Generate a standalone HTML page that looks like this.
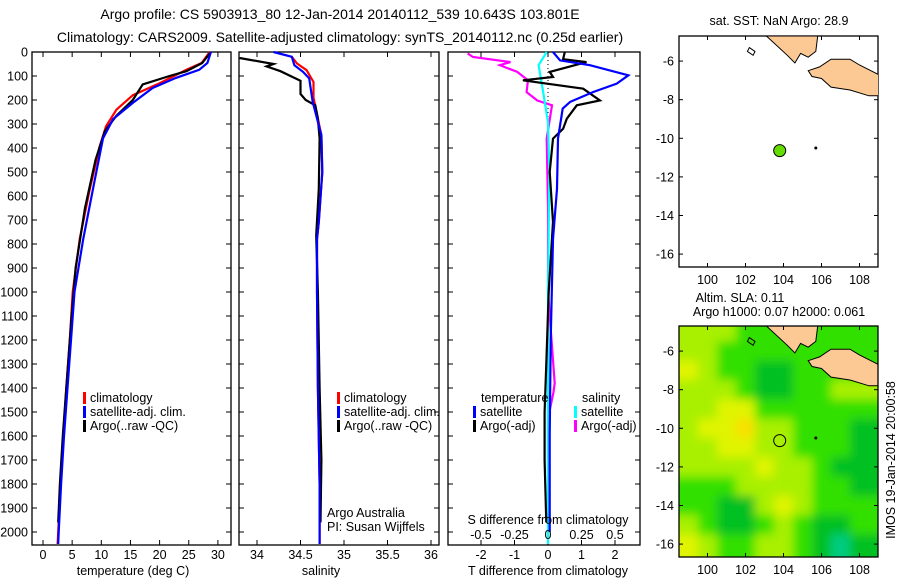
<!DOCTYPE html>
<html><head><meta charset="utf-8"><style>
body{margin:0;background:#fff;}
svg{display:block;font-family:"Liberation Sans",sans-serif;}
text{fill:#000;}
</style></head><body>
<svg id="fig" width="900" height="580" viewBox="0 0 900 580" xmlns="http://www.w3.org/2000/svg">
<text x="340" y="19" font-size="14" text-anchor="middle">Argo profile: CS 5903913_80 12-Jan-2014 20140112_539 10.643S 103.801E</text>
<text x="340" y="42" font-size="14" text-anchor="middle">Climatology: CARS2009. Satellite-adjusted climatology: synTS_20140112.nc (0.25d earlier)</text>
<g id="g"></g>
</svg>
<script>
// ---- profile data (depth in m) ----
const tClimDepth=[0,46,74,130,180,240,310,395,575,780,1000,1200,1400,1600,1800,2000,2050];
const tClim=[28.6,27.2,24.6,20.0,15.4,12.6,10.8,9.7,8.0,6.3,5.1,4.6,4.0,3.5,3.0,2.6,2.5];
const tSatDepth=[0,46,74,108,150,212,280,360,530,780,1000,1200,1400,1600,1800,2000,2050];
const tSat=[28.8,28.2,26.8,22.8,18.8,15.4,12.0,10.3,8.9,6.9,5.4,4.8,4.2,3.6,3.1,2.7,2.6];
const tArgoDepth=[0,46,80,100,135,200,265,330,450,650,900,1100,1400,1600,1800,1960];
const tArgo=[28.8,27.3,24.6,21.7,17.1,15.4,12.6,10.6,9.0,7.2,5.6,4.9,4.0,3.4,2.9,2.6];
const sClimDepth=[20,48,76,125,190,260,347,500,708,780,1000,1400,1800,2000,2050];
const sClim=[34.4,34.46,34.57,34.65,34.65,34.69,34.74,34.75,34.71,34.69,34.69,34.7,34.72,34.72,34.72];
const sSatDepth=[0,20,55,83,110,208,347,500,708,780,1000,1400,1800,2000,2050];
const sSat=[34.19,34.4,34.43,34.53,34.6,34.64,34.74,34.75,34.71,34.69,34.69,34.7,34.72,34.72,34.72];
const sArgoDepth=[25,50,60,80,108,120,175,200,222,278,360,570,765,1000,1400,1700,1960];
const sArgo=[33.8,34.19,34.11,34.27,34.43,34.5,34.5,34.56,34.67,34.7,34.72,34.71,34.68,34.7,34.72,34.74,34.73];
const dTSatDepth=[0,35,55,97,132,167,208,236,361,570,780,1200,1600,2000];
const dTSat=[0.15,0.36,1.25,2.4,2.05,1.34,0.66,0.44,0.3,0.27,0.15,0.08,0.05,0.05];
const dTArgoDepth=[0,30,42,83,104,118,153,202,222,278,320,361,500,708,1000,1300,1500,1700,1960];
const dTArgo=[0.5,0.45,1.15,0.05,0.15,-0.75,1.05,1.55,0.86,0.56,0.45,0.15,0.05,0.15,0.02,-0.05,-0.1,-0.1,-0.05];
const dSArgoDepth=[6,21,42,55,83,118,167,202,222,361,640,1000,1380,1420,1500,1960];
const dSArgo=[-0.6,-0.56,-0.28,-0.36,-0.23,-0.15,-0.16,-0.08,0.03,-0.01,0,0,0.05,0.04,0.01,0];
const dSSatDepth=[0,55,153,292,500,1000,1500,2050];
const dSSat=[-0.01,-0.07,-0.04,0,0.01,0,0,0];
// ---- axis ticks ----
const depthTicks=[0,100,200,300,400,500,600,700,800,900,1000,1100,1200,1300,1400,1500,1600,1700,1800,1900,2000];
const tempTicks=[0,5,10,15,20,25,30];
const salTicks=[34,34.5,35,35.5,36];
const salTickLabels=["34","34.5","35","35.5","36"];
const tdTicks=[-2,-1,0,1,2];
const sdTicks=[-0.5,-0.25,0,0.25,0.5];
const sdTickLabels=["-0.5","-0.25","0","0.25","0.5"];
const lonTicks=[100,102,104,106,108];
const latTicks=[-6,-8,-10,-12,-14,-16];
// ---- SLA grid (lat rows -5..-16, lon cols 99..108), level 0 teal .. 5 orange ----
const slaLats=[-5,-6,-7,-8,-9,-10,-11,-12,-13,-14,-15,-16];
const slaLons=[99,100,101,102,103,104,105,106,107,108];
const slaRows=[
[3,3,3,2,2,2,2,2,2,2],
[3,3,2,2,2,2,2,2,2,2],
[4,3,2,2,1,1,2,2,2,2],
[3,3,3,2,1,1,2,2,3,3],
[3,3,4,4,2,2,2,2,2,2],
[3,4,4,5,3,3,2,2,2,1],
[3,3,4,4,3,3,2,2,2,1],
[3,3,3,3,4,3,3,2,1,1],
[2,2,2,3,3,3,3,2,2,1],
[2,2,1,1,3,4,3,2,2,2],
[3,2,1,1,2,3,2,1,1,2],
[4,3,2,2,3,3,2,1,0,1]];
const argoLon=103.8, argoLat=-10.64;
const islandLon=105.7, islandLat=-10.5;
const sumatra=[[103.1,-4.7],[105.8,-4.7],[105.7,-5.5],[105.3,-5.8],[104.9,-5.6],[104.6,-6.1],[104.2,-5.7],[103.1,-4.7]];
const java=[[105.3,-6.5],[105.9,-6.3],[106.5,-5.9],[107.5,-5.9],[108,-6.2],[109,-6.7],[109,-7.8],[108.5,-7.8],[107.5,-7.5],[106.5,-7.35],[106,-6.9],[105.5,-6.8]];
const smallIsle=[[102.2,-5.3],[102.5,-5.5],[102.4,-5.7],[102.1,-5.5]];

const NS="http://www.w3.org/2000/svg";
const G=document.getElementById('g');
function el(tag,attrs,parent){const e=document.createElementNS(NS,tag);for(const k in attrs)e.setAttribute(k,attrs[k]);(parent||G).appendChild(e);return e;}
function txt(x,y,s,size,anchor,parent){const t=el('text',{x:x,y:y,'font-size':size,'text-anchor':anchor||'start'},parent);t.textContent=s;return t;}
const Y0=52,Y1=545;
const yD=d=>Y0+d*0.24;
const xT=t=>43+t*5.83;
const xS=s=>257+(s-34)*87;
const xTd=t=>548+t*33.5;
const xSd=s=>548+s*134;
function step(xs,ds,fx){let p=[];for(let i=0;i<xs.length;i++){p.push(fx(xs[i]).toFixed(1)+','+Math.min(Y1,yD(ds[i])).toFixed(1));}return p.join(' ');}
function frame(x0,x1,name){const r=el('rect',{x:x0,y:Y0,width:x1-x0,height:Y1-Y0,fill:'none',stroke:'#000','stroke-width':1.3});
 depthTicks.forEach(d=>{el('line',{x1:x0,x2:x0+5,y1:yD(d),y2:yD(d),stroke:'#000'});el('line',{x1:x1-5,x2:x1,y1:yD(d),y2:yD(d),stroke:'#000'});});}
function xticks(vals,fx,labels,name){vals.forEach((v,i)=>{const x=fx(v);el('line',{x1:x,x2:x,y1:Y0,y2:Y0+5,stroke:'#000'});el('line',{x1:x,x2:x,y1:Y1-5,y2:Y1,stroke:'#000'});const t=txt(x,559,labels[i],12.5,'middle');});}
function line(xs,ds,fx,color,name){const p=el('polyline',{points:step(xs,ds,fx),fill:'none',stroke:color,'stroke-width':2.2,'stroke-linejoin':'miter'});}
function legend(x,y,color,label,name){el('rect',{x:x,y:y-10,width:3,height:12,fill:color});const t=txt(x+7,y,label,12.5);}

// Panel 1 temperature
frame(32,231,'temperature-panel');
depthTicks.forEach(d=>{const t=txt(28,yD(d)+4.5,String(d),12.5,'end');});
xticks(tempTicks,xT,tempTicks.map(String),'temperature-tick-label');
line(tClim,tClimDepth,xT,'#ff0000','temp-climatology-line');
line(tArgo,tArgoDepth,xT,'#000000','temp-argo-line');
line(tSat,tSatDepth,xT,'#0000ff','temp-satellite-line');
{const t=txt(133,575,'temperature (deg C)',12.5,'middle');}
legend(83,402,'#ff0000','climatology','legend-climatology');
legend(83,416,'#0000ff','satellite-adj. clim.','legend-satellite-adj');
legend(83,430,'#000000','Argo(..raw -QC)','legend-argo');

// Panel 2 salinity
frame(239,439,'salinity-panel');
xticks(salTicks,xS,salTickLabels,'salinity-tick-label');
line(sClim,sClimDepth,xS,'#ff0000','sal-climatology-line');
line(sArgo,sArgoDepth,xS,'#000000','sal-argo-line');
line(sSat,sSatDepth,xS,'#0000ff','sal-satellite-line');
{const t=txt(321,575,'salinity',12.5,'middle');}
legend(337,402,'#ff0000','climatology','legend2-climatology');
legend(337,416,'#0000ff','satellite-adj. clim.','legend2-satellite-adj');
legend(337,430,'#000000','Argo(..raw -QC)','legend2-argo');
{const t=txt(327,517,'Argo Australia',12.5);
 const u=txt(327,531,'PI: Susan Wijffels',12.5);}

// Panel 3 differences
frame(448,640,'difference-panel');
xticks(tdTicks,xTd,tdTicks.map(String),'tdiff-tick-label');
el('line',{x1:xTd(0),x2:xTd(0),y1:Y0,y2:Y1,stroke:'#000','stroke-dasharray':'1,3'});
line(dSArgo,dSArgoDepth,xSd,'#ff00ff','sdiff-argo-line');
line(dSSat,dSSatDepth,xSd,'#00ffff','sdiff-satellite-line');
line(dTArgo,dTArgoDepth,xTd,'#000000','tdiff-argo-line');
line(dTSat,dTSatDepth,xTd,'#0000ff','tdiff-satellite-line');
sdTicks.forEach((v,i)=>{const t=txt(xSd(v),539,sdTickLabels[i],12.5,'middle');});
{const t=txt(548,524,'S difference from climatology',12.5,'middle');
 const u=txt(548,575,'T difference from climatology',12.5,'middle');}
{const t=txt(481,402,'temperature',12.5);
 const u=txt(582,402,'salinity',12.5);}
legend(473,416,'#0000ff','satellite','legend-t-satellite');
legend(473,430,'#000000','Argo(-adj)','legend-t-argo');
legend(574,416,'#00ffff','satellite','legend-s-satellite');
legend(574,430,'#ff00ff','Argo(-adj)','legend-s-argo');

// Maps
const MX0=679,MX1=878;
const xL=lon=>MX0+(lon-98.5)*19;
function mapAxes(top,bottom,name){
 const yl=lat=>top+(-4.7-lat)*19.3;
 lonTicks.forEach(v=>{const x=xL(v);el('line',{x1:x,x2:x,y1:top,y2:top+4,stroke:'#000'});el('line',{x1:x,x2:x,y1:bottom-4,y2:bottom,stroke:'#000'});const t=txt(x,bottom+17,String(v),12.5,'middle');});
 latTicks.forEach(v=>{const y=yl(v);el('line',{x1:MX0,x2:MX0+4,y1:y,y2:y,stroke:'#000'});el('line',{x1:MX1-4,x2:MX1,y1:y,y2:y,stroke:'#000'});const t=txt(MX0-5,y+4.5,String(v),12.5,'end');});
 const r=el('rect',{x:MX0,y:top,width:MX1-MX0,height:bottom-top,fill:'none',stroke:'#000','stroke-width':1.3});
 return yl;}
function land(yl,clip){
 [sumatra,java].forEach((poly,i)=>{const p=el('polygon',{points:poly.map(q=>xL(q[0]).toFixed(1)+','+yl(q[1]).toFixed(1)).join(' '),fill:'#fcc994',stroke:'#000','stroke-width':1,'clip-path':clip});});
 el('polygon',{points:smallIsle.map(q=>xL(q[0]).toFixed(1)+','+yl(q[1]).toFixed(1)).join(' '),fill:'none',stroke:'#000'});
 el('circle',{cx:xL(islandLon),cy:yl(islandLat),r:1.5,fill:'#000'});}
const defs=el('defs',{});
const c1=el('clipPath',{id:'clip1'},defs);el('rect',{x:MX0,y:36,width:MX1-MX0,height:231},c1);
const c2=el('clipPath',{id:'clip2'},defs);el('rect',{x:MX0,y:326,width:MX1-MX0,height:231},c2);
const blur=el('filter',{id:'blur',x:'-10%',y:'-10%',width:'120%',height:'120%'},defs);el('feGaussianBlur',{stdDeviation:5},blur);

// Map 1
{const t=txt(779,25,'sat. SST: NaN Argo: 28.9',12.5,'middle');}
const yl1=mapAxes(36,267,'sst-map-frame');
land(yl1,'url(#clip1)');
{const c=el('circle',{cx:xL(argoLon),cy:yl1(argoLat),r:6,fill:'#66dd00',stroke:'#000'});}

// Map 2
{const t=txt(740,302,'Altim. SLA: 0.11',12.5,'middle');
 const u=txt(779,316,'Argo h1000: 0.07 h2000: 0.061',12.5,'middle');}
const top2=326,yl2=lat=>top2+(-4.7-lat)*19.3;
const slaColors=['#00cc80','#00c020','#30e000','#a8f000','#e0f400','#f8e000'];
const hg=el('g',{'clip-path':'url(#clip2)'});
el('rect',{x:MX0,y:326,width:MX1-MX0,height:231,fill:'#40e000'},hg);
const hb=el('g',{filter:'url(#blur)'},hg);
slaRows.forEach((row,i)=>row.forEach((v,j)=>{const c=el('rect',{x:xL(slaLons[j]-0.5-(j==0?1:0)),y:yl2(slaLats[i]+0.5+(i==0?1:0)),width:19*(j==0||j==9?2:1)+0.5,height:19.3*(i==0||i==11?2:1)+0.5,fill:slaColors[v]},hb);}));
land(yl2,'url(#clip2)');
mapAxes(326,557,'sla-map-frame');
{const c=el('circle',{cx:xL(argoLon),cy:yl2(argoLat),r:6,fill:'none',stroke:'#000'});}
{const t=txt(0,0,'IMOS 19-Jan-2014 20:00:58',12.5,'middle');t.setAttribute('transform','translate(895,460) rotate(-90)');}
</script>
</body></html>
